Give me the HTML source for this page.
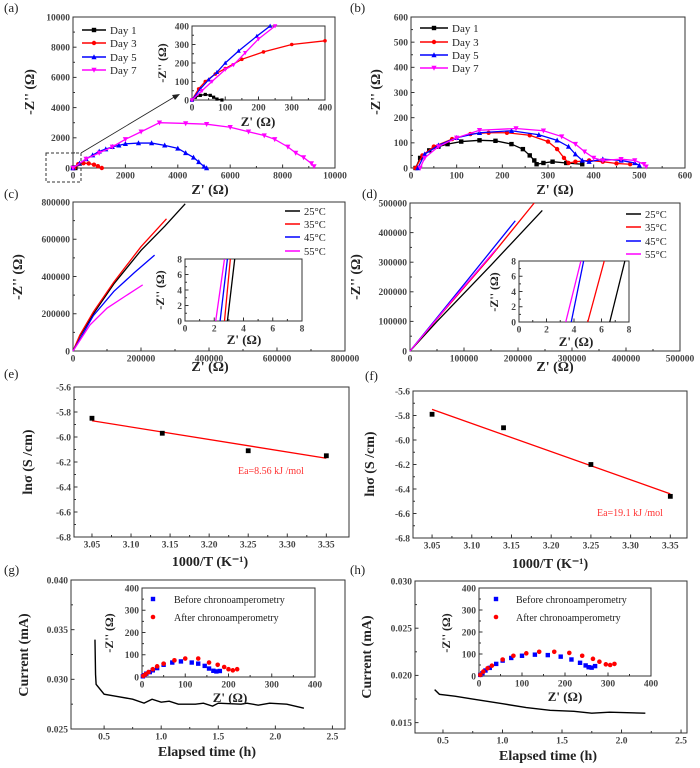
<!DOCTYPE html>
<html><head><meta charset="utf-8">
<style>
html,body{margin:0;padding:0;background:#fff;}
svg{display:block;font-family:"Liberation Serif",serif;}
</style></head>
<body>
<svg id="fig" width="700" height="768" viewBox="0 0 700 768" xmlns="http://www.w3.org/2000/svg"></svg>
<script>
// ---------- DATA ----------
// (a) main
const aDay1X=[0,30,60,90];const aDay1Y=[0,30,25,0];
const aDay3X=[50,200,400,600,800,950,1100];const aDay3Y=[0,250,320,300,220,120,0];
const aDay5X=[0,250,500,750,1000,1250,1500,1750,2000,2500,3000,3500,4000,4300,4600,4800,5000,5100];
const aDay5Y=[0,300,600,850,1100,1250,1400,1500,1600,1650,1650,1500,1300,1000,700,400,100,0];
const aDay7X=[0,500,1000,1500,2000,2600,3300,4300,5100,6000,6700,7300,7700,8200,8500,8800,9100,9200];
const aDay7Y=[0,600,1000,1400,1900,2400,3000,2950,2900,2700,2400,2150,1900,1400,1000,700,300,100];
// (a) inset
const aiDay1X=[0,10,25,40,55,65,75,90];const aiDay1Y=[0,15,25,30,25,15,5,0];
const aiDay3X=[0,20,40,70,100,150,215,300,400];const aiDay3Y=[0,60,100,140,170,220,260,300,320];
const aiDay5X=[0,25,50,75,100,140,195,235];const aiDay5Y=[0,60,110,150,200,265,345,400];
const aiDay7X=[0,30,60,100,125,160,200,250];const aiDay7Y=[0,50,100,165,190,255,330,400];
// (b)
const bDay1X=[10,20,40,60,80,110,150,185,220,245,260,270,275,290,310,340,375];
const bDay1Y=[0,40,70,85,95,105,110,108,95,75,50,30,15,20,25,20,15];
const bDay3X=[10,25,50,90,130,170,210,260,300,320,335,345,360,390,420,450,480];
const bDay3Y=[0,50,85,115,135,140,140,130,105,75,40,20,25,30,25,18,15];
const bDay5X=[15,30,60,100,150,220,280,320,345,360,375,390,420,460,490,500];
const bDay5Y=[0,55,90,120,140,148,132,110,85,55,30,25,35,30,20,10];
const bDay7X=[20,30,60,100,150,230,290,330,360,380,400,420,460,490,510,515];
const bDay7Y=[0,40,85,120,150,157,148,125,95,65,40,30,35,30,15,5];
// (c)
const c25X=[0,20000,60000,120000,200000,270000,330000];const c25Y=[0,80000,200000,360000,540000,670000,790000];
const c35X=[0,20000,60000,120000,200000,275000];const c35Y=[0,85000,210000,370000,560000,710000];
const c45X=[0,60000,120000,180000,240000];const c45Y=[0,190000,320000,420000,515000];
const c55X=[0,50000,100000,150000,205000];const c55Y=[0,140000,230000,290000,355000];
const ci25X=[2.9,3.4];const ci35X=[2.7,3.1];const ci45X=[2.4,2.9];const ci55X=[2.1,2.7];const ciY=[0,8];
// (d)
const d25X=[0,50000,150000,245000];const d25Y=[0,100000,290000,475000];
const d35X=[0,60000,150000,230000];const d35Y=[0,130000,320000,500000];
const d45X=[0,100000,195000];const d45Y=[0,225000,440000];
const d55X=[0,80000,160000];const d55Y=[0,175000,345000];
const di25X=[6.6,7.7];const di35X=[5.0,6.2];const di45X=[3.8,4.7];const di55X=[3.4,4.5];const diY=[0,8];
// (e),(f)
const invT=[3.05,3.14,3.25,3.35];
const eLnS=[-5.85,-5.97,-6.11,-6.15];const eFitX=[3.05,3.35];const eFitY=[-5.87,-6.17];
const fLnS=[-5.79,-5.90,-6.20,-6.46];const fFitX=[3.05,3.35];const fFitY=[-5.75,-6.44];
// (g)
const gT=[0.42,0.425,0.43,0.5,0.6,0.75,0.85,0.92,1.0,1.07,1.15,1.3,1.37,1.45,1.5,1.7,1.75,1.85,1.95,2.1,2.25];
const gI=[0.034,0.0305,0.0295,0.0285,0.0283,0.028,0.0276,0.028,0.0277,0.0278,0.0275,0.0275,0.0276,0.0273,0.0276,0.0275,0.0276,0.0274,0.0276,0.0275,0.0271];
const giBX=[2,5,10,18,25,35,50,70,90,115,130,145,155,165,172,180];const giBY=[3,8,15,22,30,40,55,65,70,65,60,50,38,28,25,27];
const giAX=[3,8,15,25,35,50,75,100,130,155,175,190,200,210,220];const giAY=[5,12,22,35,48,60,75,83,83,65,55,45,35,30,35];
// (h)
const hT=[0.43,0.47,0.6,0.75,1.0,1.2,1.4,1.6,1.75,1.9,2.2];
const hI=[0.0185,0.018,0.0178,0.0175,0.0170,0.0166,0.0163,0.0162,0.0160,0.0161,0.0160];
const hiBX=[3,8,15,25,40,55,75,100,130,160,190,215,235,248,255,262,270];const hiBY=[5,13,25,37,55,70,82,92,97,95,88,75,60,48,40,38,45];
const hiAX=[3,10,20,30,55,80,110,140,175,210,240,265,280,295,305,315];const hiAY=[5,20,35,47,75,92,103,110,110,105,92,78,65,53,50,55];

// ---------- HELPERS ----------
const NS="http://www.w3.org/2000/svg";
const svg=document.getElementById('fig');
function el(tag,attrs,parent){const e=document.createElementNS(NS,tag);for(const k in attrs)e.setAttribute(k,attrs[k]);(parent||svg).appendChild(e);return e;}
function txt(s,x,y,size,anchor,parent,extra){const t=el('text',Object.assign({x:x,y:y,'font-size':size,'text-anchor':anchor||'middle',fill:'#222'},extra||{}),parent);t.textContent=s;return t;}

function makeAxes(name,b,xr,yr,xt,yt,xfmt,yfmt,fs){
  const g=el('g',{});
  
  
  const sx=v=>b.l+(v-xr[0])/(xr[1]-xr[0])*(b.r-b.l);
  const sy=v=>b.b-(v-yr[0])/(yr[1]-yr[0])*(b.b-b.t);
  el('rect',{x:b.l,y:b.t,width:b.r-b.l,height:b.b-b.t,fill:'#fff',stroke:'#333','stroke-width':1},g);
  fs=fs||10;
  // minor ticks
  for(let i=0;i<xt.length-1;i++){const x=(sx(xt[i])+sx(xt[i+1]))/2;el('line',{x1:x,x2:x,y1:b.b,y2:b.b-2,stroke:'#333'},g);}
  for(let i=0;i<yt.length-1;i++){const y=(sy(yt[i])+sy(yt[i+1]))/2;el('line',{x1:b.l,x2:b.l+2,y1:y,y2:y,stroke:'#333'},g);}
  xt.forEach(v=>{const x=sx(v);el('line',{x1:x,x2:x,y1:b.b,y2:b.b-3.5,stroke:'#333'},g);
    const t=txt(xfmt(v),x,b.b+fs+1,fs,'middle',g,{fill:'#444','font-weight':'bold'});});
  yt.forEach(v=>{const y=sy(v);el('line',{x1:b.l,x2:b.l+3.5,y1:y,y2:y,stroke:'#333'},g);
    const t=txt(yfmt(v),b.l-3,y+fs*0.35,fs,'end',g,{fill:'#444','font-weight':'bold'});});
  return {g,sx,sy};
}
function line(ax,X,Y,color,name,w){const p=X.map((v,i)=>ax.sx(v)+','+ax.sy(Y[i])).join(' ');
  const e=el('polyline',{points:p,fill:'none',stroke:color,'stroke-width':w||1.3},ax.g);
  return e;}
function marker(g,type,x,y,c,s){
  s=s||2.2;
  if(type==='sq')return el('rect',{x:x-s,y:y-s,width:2*s,height:2*s,fill:c},g);
  if(type==='ci')return el('circle',{cx:x,cy:y,r:s,fill:c},g);
  if(type==='up')return el('polygon',{points:`${x},${y-s-0.6} ${x-s-0.4},${y+s} ${x+s+0.4},${y+s}`,fill:c},g);
  return el('polygon',{points:`${x},${y+s+0.6} ${x-s-0.4},${y-s} ${x+s+0.4},${y-s}`,fill:c},g);
}
function marks(ax,X,Y,c,type,name,s){X.forEach((v,i)=>{const m=marker(ax.g,type,ax.sx(v),ax.sy(Y[i]),c,s);
  });}
function ylabel(s,x,y,size,g){const t=txt(s,x,y,size,'middle',g||svg,{transform:`rotate(-90 ${x} ${y})`,'font-weight':'bold'});return t;}
function xlabel(s,x,y,size,g){const t=txt(s,x,y,size,'middle',g||svg,{'font-weight':'bold'});return t;}
function panelLabel(s,x,y){const t=txt(s,x,y,13,'start',svg);}
function legendEntry(x1,x2,y,c,type,label,fs){const g=el('g',{});
  
  el('line',{x1:x1,x2:x2,y1:y,y2:y,stroke:c,'stroke-width':1.5},g);
  if(type)marker(g,type,(x1+x2)/2,y,c,2.2);
  txt(label,x2+4,y+4,fs||11,'start',g);}
const f0=v=>String(v), f2=v=>v.toFixed(2), f1=v=>v.toFixed(1), f3=v=>v.toFixed(3);
const BK='#000',RD='#f00',BL='#00f',MG='#f0f';

// ---------- (a) ----------
panelLabel('(a)',4,12);
let A=makeAxes('panel-a-plot',{l:73,r:335,t:17,b:168},[0,10000],[0,10000],[0,2000,4000,6000,8000,10000],[0,2000,4000,6000,8000,10000],f0,f0,9.5);
line(A,aDay1X,aDay1Y,BK,'day1-line');marks(A,aDay1X,aDay1Y,BK,'sq','day1-point');
line(A,aDay3X,aDay3Y,RD,'day3-line');marks(A,aDay3X,aDay3Y,RD,'ci','day3-point');
line(A,aDay5X,aDay5Y,BL,'day5-line');marks(A,aDay5X,aDay5Y,BL,'up','day5-point');
line(A,aDay7X,aDay7Y,MG,'day7-line');marks(A,aDay7X,aDay7Y,MG,'dn','day7-point');
ylabel('-Z\'\' (Ω)',34,92,14);xlabel('Z\' (Ω)',210,194,14);
legendEntry(82,106,30,BK,'sq','Day 1');legendEntry(82,106,43,RD,'ci','Day 3');legendEntry(82,106,57,BL,'up','Day 5');legendEntry(82,106,70,MG,'dn','Day 7');
let dbox=el('rect',{x:46,y:153,width:35,height:29,fill:'none',stroke:'#333','stroke-dasharray':'3,2'});
let arr=el('line',{x1:81,y1:153,x2:176,y2:96,stroke:'#222','stroke-width':0.8});
el('polygon',{points:'180,94 172,95 175,100',fill:'#222'});
let AI=makeAxes('panel-a-inset',{l:192,r:325,t:26,b:100},[0,400],[0,400],[0,100,200,300,400],[0,100,200,300,400],f0,f0,9.5);
line(AI,aiDay1X,aiDay1Y,BK,'day1-line');marks(AI,aiDay1X,aiDay1Y,BK,'sq','day1-point',1.6);
line(AI,aiDay3X,aiDay3Y,RD,'day3-line');marks(AI,aiDay3X,aiDay3Y,RD,'ci','day3-point',1.8);
line(AI,aiDay5X,aiDay5Y,BL,'day5-line');marks(AI,aiDay5X,aiDay5Y,BL,'up','day5-point',1.8);
line(AI,aiDay7X,aiDay7Y,MG,'day7-line');marks(AI,aiDay7X,aiDay7Y,MG,'dn','day7-point',1.8);
ylabel('-Z\'\' (Ω)',166,63,12);xlabel('Z\' (Ω)',258,126,13);

// ---------- (b) ----------
panelLabel('(b)',350,12);
let B=makeAxes('panel-b-plot',{l:411,r:685,t:17,b:168},[0,600],[0,600],[0,100,200,300,400,500,600],[0,100,200,300,400,500,600],f0,f0,9.5);
line(B,bDay1X,bDay1Y,BK,'day1-line');marks(B,bDay1X,bDay1Y,BK,'sq','day1-point');
line(B,bDay3X,bDay3Y,RD,'day3-line');marks(B,bDay3X,bDay3Y,RD,'ci','day3-point');
line(B,bDay5X,bDay5Y,BL,'day5-line');marks(B,bDay5X,bDay5Y,BL,'up','day5-point');
line(B,bDay7X,bDay7Y,MG,'day7-line');marks(B,bDay7X,bDay7Y,MG,'dn','day7-point');
ylabel('-Z\'\' (Ω)',380,92,14);xlabel('Z\' (Ω)',555,194,14);
legendEntry(420,448,28,BK,'sq','Day 1');legendEntry(420,448,42,RD,'ci','Day 3');legendEntry(420,448,55,BL,'up','Day 5');legendEntry(420,448,68,MG,'dn','Day 7');

// ---------- (c) ----------
panelLabel('(c)',4,198);
let C=makeAxes('panel-c-plot',{l:73,r:345,t:202,b:351},[0,800000],[0,800000],[0,200000,400000,600000,800000],[0,200000,400000,600000,800000],f0,f0,9.5);
line(C,c25X,c25Y,BK,'25c-line');line(C,c35X,c35Y,RD,'35c-line');line(C,c45X,c45Y,BL,'45c-line');line(C,c55X,c55Y,MG,'55c-line');
ylabel('-Z\'\' (Ω)',22,277,14);xlabel('Z\' (Ω)',210,371,14);
legendEntry(285,300,211,BK,null,'25°C',10.5);legendEntry(285,300,224,RD,null,'35°C',10.5);legendEntry(285,300,237,BL,null,'45°C',10.5);legendEntry(285,300,251,MG,null,'55°C',10.5);
let CI=makeAxes('panel-c-inset',{l:185,r:302,t:259,b:321},[0,8],[0,8],[0,2,4,6,8],[0,2,4,6,8],f0,f0,9.5);
line(CI,ci25X,ciY,BK,'25c-inset-line');line(CI,ci35X,ciY,RD,'35c-inset-line');line(CI,ci45X,ciY,BL,'45c-inset-line');line(CI,ci55X,ciY,MG,'55c-inset-line');
ylabel('-Z\'\' (Ω)',164,290,12);xlabel('Z\' (Ω)',244,344,13);

// ---------- (d) ----------
panelLabel('(d)',362,198);
let D=makeAxes('panel-d-plot',{l:410,r:680,t:203,b:351},[0,500000],[0,500000],[0,100000,200000,300000,400000,500000],[0,100000,200000,300000,400000,500000],f0,f0,9.5);
line(D,d25X,d25Y,BK,'25c-line');line(D,d35X,d35Y,RD,'35c-line');line(D,d45X,d45Y,BL,'45c-line');line(D,d55X,d55Y,MG,'55c-line');
ylabel('-Z\'\' (Ω)',360,277,14);xlabel('Z\' (Ω)',555,371,14);
legendEntry(626,641,214,BK,null,'25°C',10.5);legendEntry(626,641,227,RD,null,'35°C',10.5);legendEntry(626,641,241,BL,null,'45°C',10.5);legendEntry(626,641,254,MG,null,'55°C',10.5);
let DI=makeAxes('panel-d-inset',{l:519,r:629,t:261,b:322},[0,8],[0,8],[0,2,4,6,8],[0,2,4,6,8],f0,f0,9.5);
line(DI,di25X,diY,BK,'25c-inset-line');line(DI,di35X,diY,RD,'35c-inset-line');line(DI,di45X,diY,BL,'45c-inset-line');line(DI,di55X,diY,MG,'55c-inset-line');
ylabel('-Z\'\' (Ω)',498,292,12);xlabel('Z\' (Ω)',576,346,13);

// ---------- (e) ----------
panelLabel('(e)',4,378);
let E=makeAxes('panel-e-plot',{l:74,r:349,t:387,b:537},[3.027,3.379],[-6.8,-5.6],[3.05,3.10,3.15,3.20,3.25,3.30,3.35],[-6.8,-6.6,-6.4,-6.2,-6.0,-5.8,-5.6],f2,f1,9.5);
line(E,eFitX,eFitY,RD,'fit-line');marks(E,invT,eLnS,BK,'sq','data-point',2.4);
let ea1=txt('Ea=8.56 kJ /mol',238,474,10,'start',svg,{fill:'#f33'});
ylabel('lnσ (S /cm)',32,462,14);xlabel('1000/T (K⁻¹)',210,566,14);

// ---------- (f) ----------
panelLabel('(f)',365,380);
let F=makeAxes('panel-f-plot',{l:413,r:687,t:391,b:538},[3.026,3.371],[-6.8,-5.6],[3.05,3.10,3.15,3.20,3.25,3.30,3.35],[-6.8,-6.6,-6.4,-6.2,-6.0,-5.8,-5.6],f2,f1,9.5);
line(F,fFitX,fFitY,RD,'fit-line');marks(F,invT,fLnS,BK,'sq','data-point',2.4);
let ea2=txt('Ea=19.1 kJ /mol',597,516,10,'start',svg,{fill:'#f33'});
ylabel('lnσ (S /cm)',374,464,14);xlabel('1000/T (K⁻¹)',550,568,14);

// ---------- (g) ----------
panelLabel('(g)',4,574);
let G=makeAxes('panel-g-plot',{l:71,r:345,t:580,b:729},[0.21,2.61],[0.025,0.040],[0.5,1.0,1.5,2.0,2.5],[0.025,0.030,0.035,0.040],f1,f3,9.5);
line(G,gT,gI,BK,'current-line',1.4);
ylabel('Current (mA)',28,655,14);xlabel('Elapsed time (h)',207,756,14);
let GI=makeAxes('panel-g-inset',{l:142,r:315,t:588,b:677},[0,400],[0,400],[0,100,200,300,400],[0,100,200,300,400],f0,f0,9.5);
marks(GI,giBX,giBY,BL,'sq','before-point',2.2);marks(GI,giAX,giAY,RD,'ci','after-point',2.3);
ylabel('-Z\'\' (Ω)',113,633,12);xlabel('Z\' (Ω)',230,702,13);
let lg1=el('g',{});
marker(lg1,'sq',153,599,BL,2.2);txt('Before chronoamperometry',174,603,10,'start',lg1);
let lg2=el('g',{});
marker(lg2,'ci',153,617,RD,2.3);txt('After chronoamperometry',174,621,10,'start',lg2);

// ---------- (h) ----------
panelLabel('(h)',350,574);
let H=makeAxes('panel-h-plot',{l:415,r:687,t:581,b:733},[0.265,2.55],[0.0139,0.030],[0.5,1.0,1.5,2.0,2.5],[0.015,0.020,0.025,0.030],f1,f3,9.5);
line(H,hT,hI,BK,'current-line',1.4);
ylabel('Current (mA)',371,657,14);xlabel('Elapsed time (h)',548,760,14);
let HI=makeAxes('panel-h-inset',{l:479,r:651,t:588,b:676},[0,400],[0,400],[0,100,200,300,400],[0,100,200,300,400],f0,f0,9.5);
marks(HI,hiBX,hiBY,BL,'sq','before-point',2.2);marks(HI,hiAX,hiAY,RD,'ci','after-point',2.3);
ylabel('-Z\'\' (Ω)',450,633,12);xlabel('Z\' (Ω)',565,701,13);
let lg3=el('g',{});
marker(lg3,'sq',496,599,BL,2.2);txt('Before chronoamperometry',516,603,10,'start',lg3);
let lg4=el('g',{});
marker(lg4,'ci',496,617,RD,2.3);txt('After chronoamperometry',516,621,10,'start',lg4);
</script>
</body></html>
